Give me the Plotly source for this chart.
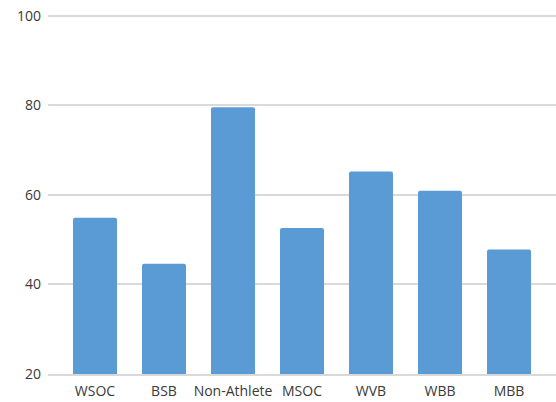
import plotly.graph_objects as go

# Category labels and their scores
groups = ["WSOC", "BSB", "Non-Athlete", "MSOC", "WVB", "WBB", "MBB"]
scores = [54.9, 44.6, 79.6, 52.6, 65.2, 60.9, 47.8]

# Axis ticks
y_ticks = [20, 40, 60, 80, 100]

BAR_BLUE = "#5B9BD5"
GRID_GRAY = "#D9D9D9"
TEXT_GRAY = "#3A3A3A"

fig = go.Figure(
    go.Bar(
        x=groups,
        y=scores,
        marker=dict(color=BAR_BLUE, line=dict(width=0)),
    )
)

fig.update_layout(
    width=556,
    height=402,
    margin=dict(l=48, r=0, t=14, b=28),
    paper_bgcolor="white",
    plot_bgcolor="white",
    bargap=0.362,
    barcornerradius=2,
    showlegend=False,
    font=dict(family="Open Sans", size=14, color=TEXT_GRAY),
)

fig.update_xaxes(
    range=[-0.681, 6.681],
    showgrid=False,
    showline=True,
    linecolor=GRID_GRAY,
    linewidth=1.5,
    ticks="",
    ticklabelstandoff=3,
    tickfont=dict(size=14, color=TEXT_GRAY),
)

fig.update_yaxes(
    range=[20, 100.4],
    tickvals=y_ticks,
    showgrid=True,
    gridcolor=GRID_GRAY,
    gridwidth=1.5,
    zeroline=False,
    showline=False,
    ticks="",
    ticklabelstandoff=6,
    tickfont=dict(size=14, color=TEXT_GRAY),
)

fig.write_html("out.html")
